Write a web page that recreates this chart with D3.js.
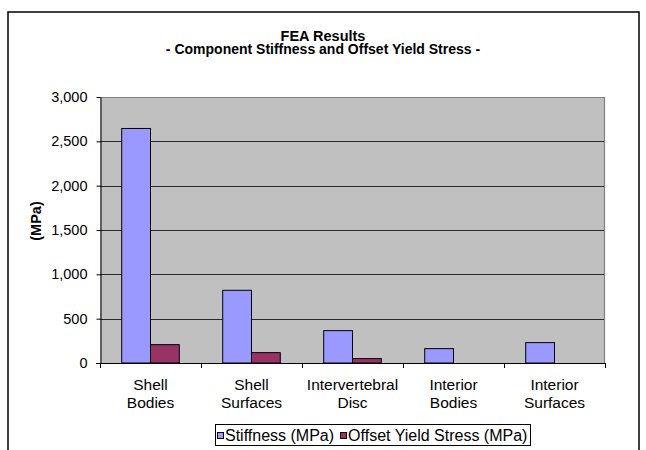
<!DOCTYPE html>
<html>
<head>
<meta charset="utf-8">
<script src="https://cdn.jsdelivr.net/npm/d3@7"></script>
<style>
  body { margin: 0; background: #fff; }
  svg { display: block; font-family: "Liberation Sans", Arial, sans-serif; }
</style>
</head>
<body>
<div id="chart"></div>
<script>
// data
var categories = [["Shell", "Bodies"], ["Shell", "Surfaces"], ["Intervertebral", "Disc"], ["Interior", "Bodies"], ["Interior", "Surfaces"]];
var seriesNames = ["Stiffness (MPa)", "Offset Yield Stress (MPa)"];
var stiffness = [2645, 820, 365, 162, 230];
var yieldStress = [207, 117, 50, 0, 0];
var yTicks = [0, 500, 1000, 1500, 2000, 2500, 3000];
var colors = ["#9999FF", "#993366"];

var W = 646, H = 450;
var plot = {left: 100, right: 605, top: 97, bottom: 363};

var svg = d3.select("#chart").append("svg")
    .attr("width", W)
    .attr("height", H);

// outer chart border (bottom runs off the page)
svg.append("path")
    .attr("d", "M8,452 L8,12 L639,12 L639,452")
    .attr("fill", "none")
    .attr("stroke", "#000")
    .attr("stroke-width", 1.5);

// two-line title
var title = svg.append("text")
    .attr("text-anchor", "middle")
    .style("font-weight", "bold");
title.append("tspan")
    .attr("x", 323).attr("y", 40.5)
    .style("font-size", "14.5px")
    .text("FEA Results");
title.append("tspan")
    .attr("x", 323).attr("y", 54)
    .style("font-size", "14px")
    .text("- Component Stiffness and Offset Yield Stress -");

var idx = d3.range(categories.length);

var x0 = d3.scaleBand()
    .domain(idx)
    .range([plot.left, plot.right])
    .paddingInner(0.43)
    .paddingOuter(0.215);

var x1 = d3.scaleBand()
    .domain([0, 1])
    .range([0, x0.bandwidth()]);

var y = d3.scaleLinear()
    .domain([0, 3000])
    .range([plot.bottom, plot.top]);

// plot background
svg.append("rect")
    .attr("x", plot.left).attr("y", plot.top)
    .attr("width", plot.right - plot.left)
    .attr("height", plot.bottom - plot.top)
    .attr("fill", "#C0C0C0");

// gridlines
svg.append("g").selectAll("line")
    .data(yTicks.filter(function(d) { return d > 0; }))
    .enter().append("line")
    .attr("x1", plot.left).attr("x2", plot.right)
    .attr("y1", function(d) { return Math.round(y(d)) + 0.5; })
    .attr("y2", function(d) { return Math.round(y(d)) + 0.5; })
    .attr("stroke", "#2a2a2a")
    .attr("stroke-width", 1);

// top & right plot border
svg.append("path")
    .attr("d", "M" + plot.left + "," + (plot.top + 0.5) + " L" + (plot.right - 0.5) + "," + (plot.top + 0.5) + " L" + (plot.right - 0.5) + "," + plot.bottom)
    .attr("fill", "none")
    .attr("stroke", "#808080")
    .attr("stroke-width", 1.2);

// bars
var data = idx.map(function(i) { return [stiffness[i], yieldStress[i]]; });
var groups = svg.append("g").selectAll("g")
    .data(data)
    .enter().append("g")
    .attr("transform", function(d, i) { return "translate(" + x0(i) + ",0)"; });

groups.selectAll("rect")
    .data(function(d) { return d.map(function(v, s) { return {v: v, s: s}; }).filter(function(e) { return e.v > 0; }); })
    .enter().append("rect")
    .attr("x", function(d) { return x1(d.s); })
    .attr("y", function(d) { return y(d.v); })
    .attr("width", x1.bandwidth())
    .attr("height", function(d) { return y(0) - y(d.v); })
    .attr("fill", function(d) { return colors[d.s]; })
    .attr("stroke", "#000")
    .attr("stroke-width", 1);

// y axis
var yAxis = svg.append("g")
    .attr("transform", "translate(" + (plot.left + 0.5) + ",0)")
    .call(d3.axisLeft(y).tickValues(yTicks).tickFormat(d3.format(",")).tickSize(4).tickPadding(9).tickSizeOuter(0));
yAxis.selectAll("text").style("font-size", "14.5px").style("font-family", "Liberation Sans, Arial, sans-serif").attr("fill", "#000");
yAxis.selectAll("line, path").attr("stroke", "#000");

// x axis with ticks at category boundaries
var step = (plot.right - plot.left) / categories.length;
var xb = svg.append("g");
xb.append("line")
    .attr("x1", plot.left - 4).attr("x2", plot.right)
    .attr("y1", plot.bottom + 0.5).attr("y2", plot.bottom + 0.5)
    .attr("stroke", "#000");
xb.selectAll(".xt")
    .data(d3.range(categories.length + 1))
    .enter().append("line")
    .attr("class", "xt")
    .attr("x1", function(d) { return Math.round(plot.left + d * step) + 0.5; })
    .attr("x2", function(d) { return Math.round(plot.left + d * step) + 0.5; })
    .attr("y1", plot.bottom).attr("y2", plot.bottom + 5)
    .attr("stroke", "#000");

var labels = svg.append("g").selectAll("text")
    .data(categories)
    .enter().append("text")
    .attr("text-anchor", "middle")
    .style("font-size", "15.5px")
    .attr("transform", function(d, i) { return "translate(" + (x0(i) + x0.bandwidth() / 2) + ",390)"; });
labels.append("tspan").attr("x", 0).attr("y", 0).text(function(d) { return d[0]; });
labels.append("tspan").attr("x", 0).attr("y", 18).text(function(d) { return d[1]; });

// y axis title
svg.append("text")
    .attr("transform", "translate(41,221) rotate(-90)")
    .attr("text-anchor", "middle")
    .style("font-size", "14.5px").style("font-weight", "bold")
    .text("(MPa)");

// legend
var legend = svg.append("g");
legend.append("rect")
    .attr("x", 215.5).attr("y", 424.5)
    .attr("width", 315).attr("height", 21)
    .attr("fill", "#fff")
    .attr("stroke", "#000");
var lx = 217;
seriesNames.forEach(function(name, s) {
    legend.append("rect")
        .attr("x", lx + 0.5).attr("y", 432.5)
        .attr("width", 6).attr("height", 6)
        .attr("fill", colors[s])
        .attr("stroke", "#000");
    var t = legend.append("text")
        .attr("x", lx + 8).attr("y", 440.5)
        .style("font-size", "16px")
        .text(name);
    lx = lx + 8 + t.node().getComputedTextLength() + 6;
});
</script>
</body>
</html>
